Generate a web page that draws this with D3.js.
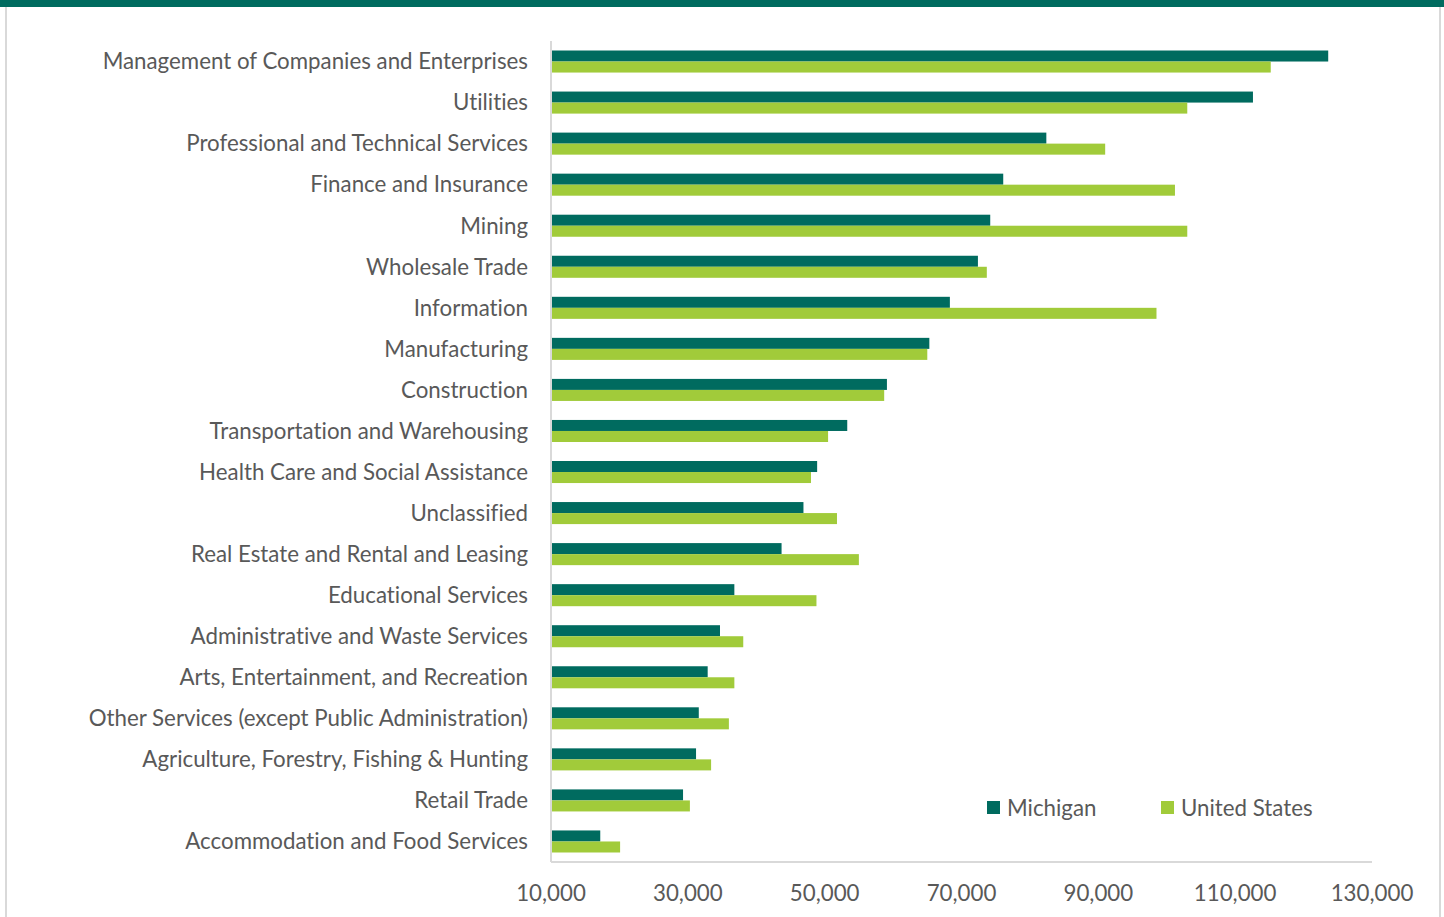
<!DOCTYPE html>
<html>
<head>
<meta charset="utf-8">
<script src="https://cdn.jsdelivr.net/npm/d3@7"></script>
<style>
  body { margin: 0; background: #fff; }
  svg { display: block; font-family: Lato, "Open Sans", sans-serif; font-variant-ligatures: none; }
</style>
</head>
<body>
<div id="chart"></div>
<script>
const categories = [
  "Management of Companies and Enterprises",
  "Utilities",
  "Professional and Technical Services",
  "Finance and Insurance",
  "Mining",
  "Wholesale Trade",
  "Information",
  "Manufacturing",
  "Construction",
  "Transportation and Warehousing",
  "Health Care and Social Assistance",
  "Unclassified",
  "Real Estate and Rental and Leasing",
  "Educational Services",
  "Administrative and Waste Services",
  "Arts, Entertainment, and Recreation",
  "Other Services (except Public Administration)",
  "Agriculture, Forestry, Fishing & Hunting",
  "Retail Trade",
  "Accommodation and Food Services"
];
const michigan = [123600, 112600, 82400, 76100, 74200, 72400, 68300, 65300, 59100, 53300,
                  48900, 46900, 43700, 36800, 34700, 32900, 31600, 31200, 29300, 17200];
const unitedStates = [115200, 103000, 91000, 101200, 103000, 73700, 98500, 65000, 58700, 50500,
                      48000, 51800, 55000, 48800, 38100, 36800, 36000, 33400, 30300, 20100];
const seriesNames = ["Michigan", "United States"];
const xTicks = [10000, 30000, 50000, 70000, 90000, 110000, 130000];

const W = 1444, H = 917;
const margin = { top: 41, left: 551, right: 72, bottom: 55 };
const colors = { "Michigan": "#006B5F", "United States": "#A1CB3A" };
const fontSize = "22.3px";

const svg = d3.select("#chart").append("svg")
  .attr("width", W)
  .attr("height", H);

// top band + frame lines
svg.append("rect").attr("x", 0).attr("y", 0).attr("width", W).attr("height", 7).attr("fill", "#006B5F");
svg.append("line").attr("x1", 6).attr("x2", 6).attr("y1", 7).attr("y2", H).attr("stroke", "#D9D9D9").attr("stroke-width", 2);
svg.append("line").attr("x1", 1440).attr("x2", 1440).attr("y1", 7).attr("y2", H).attr("stroke", "#D9D9D9").attr("stroke-width", 2);

const x = d3.scaleLinear()
  .domain([10000, 130000])
  .range([margin.left, W - margin.right]);

const y = d3.scaleBand()
  .domain(categories)
  .range([margin.top, H - margin.bottom])
  .paddingInner(0.463)
  .paddingOuter(0.2315);

const ySub = d3.scaleBand()
  .domain(seriesNames)
  .range([0, y.bandwidth()]);

const rows = categories.map((c, i) => ({ cat: c, values: [
  { key: "Michigan", value: michigan[i] },
  { key: "United States", value: unitedStates[i] }
]}));

const g = svg.append("g");
g.selectAll("g.row")
  .data(rows)
  .enter().append("g")
  .attr("class", "row")
  .attr("transform", d => `translate(0,${y(d.cat)})`)
  .selectAll("rect")
  .data(d => d.values)
  .enter().append("rect")
  .attr("x", x(10000))
  .attr("y", d => ySub(d.key))
  .attr("width", d => x(d.value) - x(10000))
  .attr("height", ySub.bandwidth())
  .attr("fill", d => colors[d.key]);

// axes lines
svg.append("line")
  .attr("x1", x(10000)).attr("x2", x(10000))
  .attr("y1", margin.top).attr("y2", H - margin.bottom)
  .attr("stroke", "#D9D9D9").attr("stroke-width", 2);
svg.append("line")
  .attr("x1", x(10000)).attr("x2", x(130000))
  .attr("y1", H - margin.bottom).attr("y2", H - margin.bottom)
  .attr("stroke", "#D9D9D9").attr("stroke-width", 2);

// category labels
svg.selectAll("text.cat")
  .data(categories)
  .enter().append("text")
  .attr("class", "cat")
  .attr("x", margin.left - 23)
  .attr("y", d => y(d) + y.bandwidth() / 2)
  .attr("dy", "0.35em")
  .attr("text-anchor", "end")
  .style("font-size", fontSize)
  .style("fill", "#595959")
  .text(d => d);

// x tick labels
svg.selectAll("text.tick")
  .data(xTicks)
  .enter().append("text")
  .attr("class", "tick")
  .attr("x", d => x(d))
  .attr("y", 901)
  .attr("text-anchor", "middle")
  .style("font-size", fontSize)
  .style("fill", "#595959")
  .text(d => d3.format(",")(d));

// legend
const legendX = [987, 1161];
const legend = svg.selectAll("g.legend")
  .data(seriesNames)
  .enter().append("g")
  .attr("class", "legend")
  .attr("transform", (d, i) => `translate(${legendX[i]},801)`);
legend.append("rect")
  .attr("width", 13).attr("height", 13)
  .attr("fill", d => colors[d]);
legend.append("text")
  .attr("x", 20).attr("y", 7)
  .attr("dy", "0.35em")
  .style("font-size", fontSize)
  .style("fill", "#595959")
  .text(d => d);
</script>
</body>
</html>
